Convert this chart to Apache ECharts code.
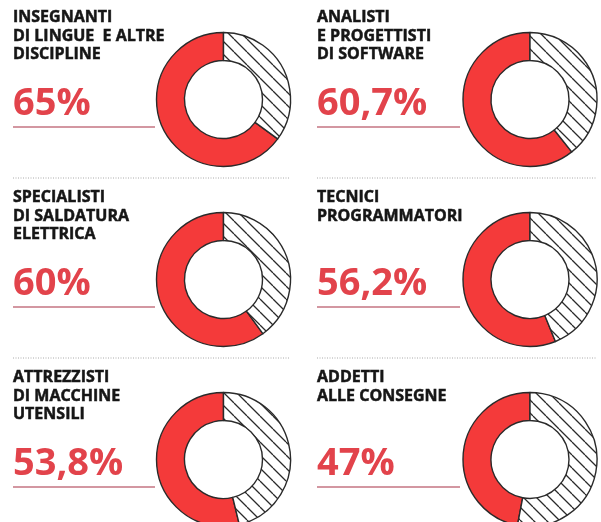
<!DOCTYPE html>
<html>
<head>
<meta charset="utf-8">
<script src="https://cdn.jsdelivr.net/npm/echarts@6/dist/echarts.min.js"></script>
<style>
  html, body { margin: 0; padding: 0; background: #fff; }
  #main { width: 601px; height: 522px; }
</style>
</head>
<body>
<div id="main"></div>
<script>
// professioni e quota (%)
const titles = [
  ['INSEGNANTI', 'DI LINGUE  E ALTRE', 'DISCIPLINE'],
  ['ANALISTI', 'E PROGETTISTI', 'DI SOFTWARE'],
  ['SPECIALISTI', 'DI SALDATURA', 'ELETTRICA'],
  ['TECNICI', 'PROGRAMMATORI'],
  ['ATTREZZISTI', 'DI MACCHINE', 'UTENSILI'],
  ['ADDETTI', 'ALLE CONSEGNE']
];
const values = [65, 60.7, 60, 56.2, 53.8, 47];
const labels = ['65%', '60,7%', '60%', '56,2%', '53,8%', '47%'];

// tratteggio per la parte restante
function hatch() {
  const s = 13;
  const c = document.createElement('canvas');
  c.width = s; c.height = s;
  const ctx = c.getContext('2d');
  ctx.fillStyle = '#fff';
  ctx.fillRect(0, 0, s, s);
  ctx.strokeStyle = '#2a2a2a';
  ctx.lineWidth = 1.3;
  ctx.beginPath();
  [-s, 0, s].forEach(k => {
    ctx.moveTo(k, 0);
    ctx.lineTo(k + s, s);
  });
  ctx.stroke();
  return c;
}
const pattern = { image: hatch(), repeat: 'repeat' };

const colX = [13, 317];
const pieX = [223.5, 530];
const rowY = [0, 180, 360];

const series = [];
const graphic = [];

values.forEach((v, i) => {
  const col = i % 2, row = Math.floor(i / 2);
  const x0 = colX[col], y0 = rowY[row];
  series.push({
    type: 'pie',
    silent: true,
    clockwise: false,
    startAngle: 90,
    center: [pieX[col], y0 + 99.5],
    radius: [39, 67],
    label: { show: false },
    labelLine: { show: false },
    itemStyle: { borderColor: '#2a2a2a', borderWidth: 1.4 },
    data: [
      { value: v, itemStyle: { color: '#f43a3a' } },
      { value: +(100 - v).toFixed(1), itemStyle: { color: pattern } }
    ]
  });
  titles[i].forEach((t, j) => {
    graphic.push({
      type: 'text', silent: true,
      style: {
        text: t, x: x0, y: y0 + 17.5 + j * 18.5,
        font: 'bold 16px "Open Sans"', fill: '#161616',
        stroke: '#161616', lineWidth: 0.5,
        textVerticalAlign: 'middle'
      }
    });
  });
  graphic.push({
    type: 'text', silent: true,
    style: {
      text: labels[i], x: x0, y: y0 + 104,
      font: 'bold 38px "Open Sans"', fill: '#e2434b',
      textVerticalAlign: 'middle'
    }
  });
  graphic.push({
    type: 'line', silent: true,
    shape: { x1: x0, y1: y0 + 127, x2: col ? 460 : 155, y2: y0 + 127 },
    style: { stroke: '#c47482', lineWidth: 1.5 }
  });
});

// separatori tratteggiati
[178, 358].forEach(y => {
  [[13, 290], [317, 597]].forEach(([a, b]) => {
    graphic.push({
      type: 'line', silent: true,
      shape: { x1: a, y1: y, x2: b, y2: y },
      style: { stroke: '#aaa', lineWidth: 1, lineDash: [1, 1.5] }
    });
  });
});

const myChart = echarts.init(document.getElementById('main'));
myChart.setOption({
  animation: false,
  backgroundColor: '#fff',
  series: series,
  graphic: graphic
});
</script>
</body>
</html>
